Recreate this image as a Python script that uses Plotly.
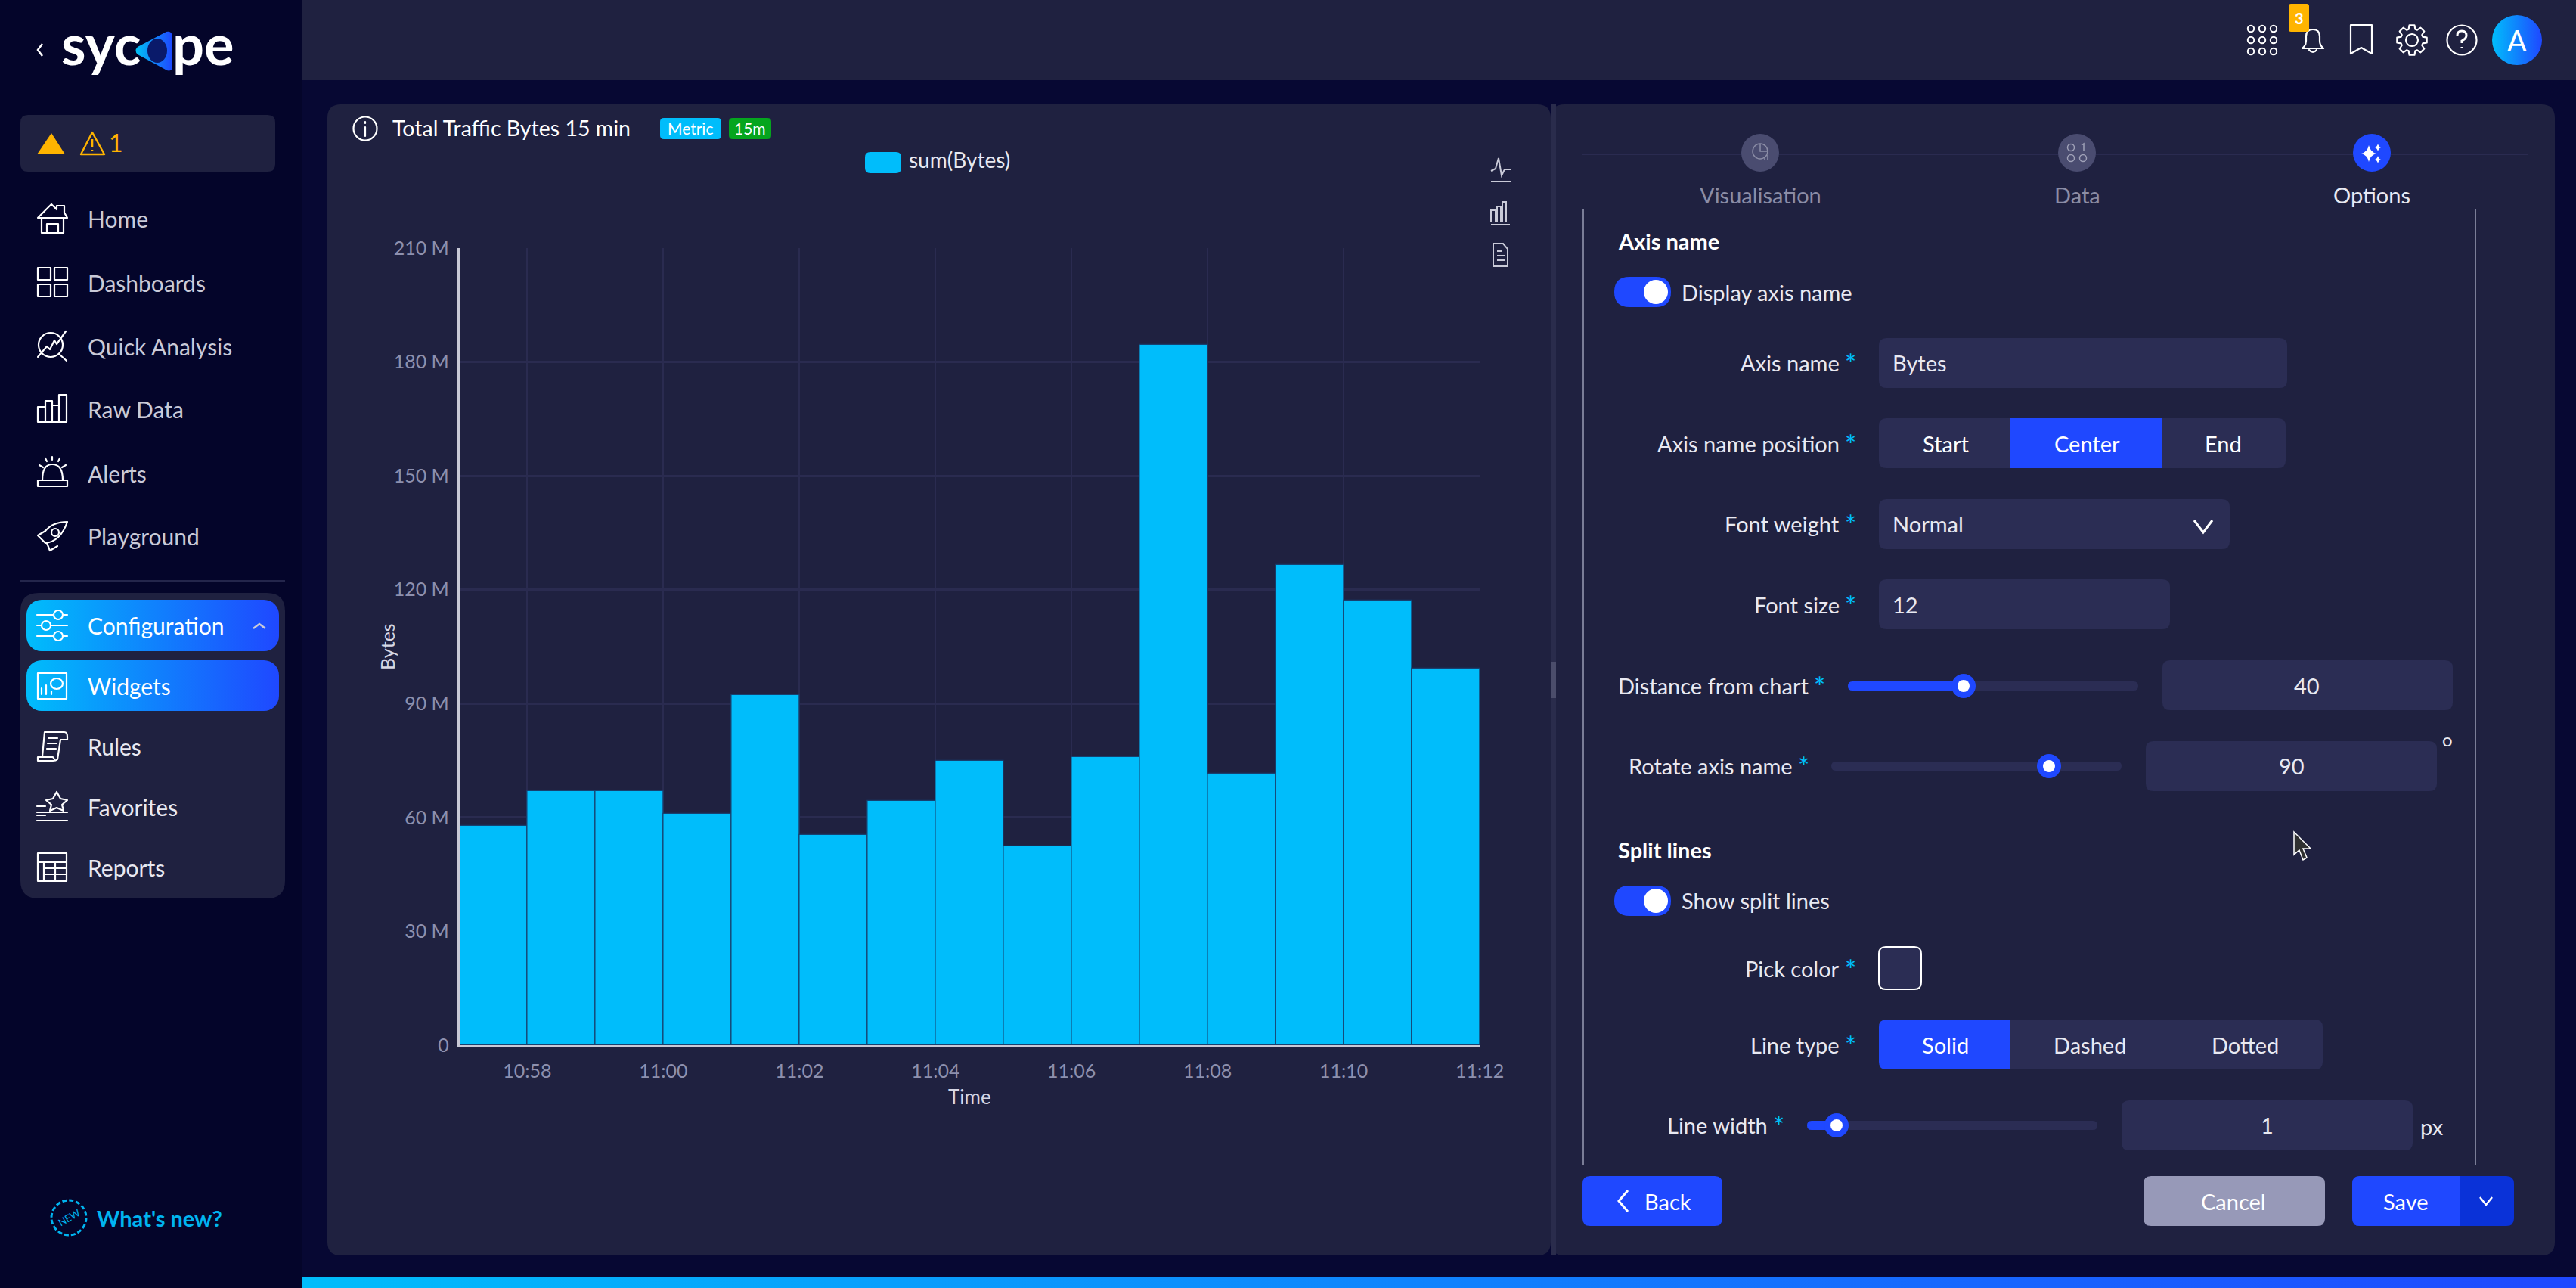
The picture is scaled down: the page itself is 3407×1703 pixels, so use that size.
import base64
import math
import plotly.graph_objects as go

W, H = 3407, 1703
FONT = "Lato"

# ── chart data ────────────────────────────────────────────────────────────────
bar_starts = [
    "2024-05-14 10:57", "2024-05-14 10:58", "2024-05-14 10:59", "2024-05-14 11:00",
    "2024-05-14 11:01", "2024-05-14 11:02", "2024-05-14 11:03", "2024-05-14 11:04",
    "2024-05-14 11:05", "2024-05-14 11:06", "2024-05-14 11:07", "2024-05-14 11:08",
    "2024-05-14 11:09", "2024-05-14 11:10", "2024-05-14 11:11",
]
sum_bytes = [57.7e6, 67.0e6, 67.0e6, 61.0e6, 92.3e6, 55.4e6, 64.4e6, 74.9e6,
             52.4e6, 75.9e6, 184.4e6, 71.6e6, 126.6e6, 117.1e6, 99.2e6]
y_ticks = [0, 30e6, 60e6, 90e6, 120e6, 150e6, 180e6, 210e6]
y_labels = ["0", "30 M", "60 M", "90 M", "120 M", "150 M", "180 M", "210 M"]
x_range = ["2024-05-14 10:57", "2024-05-14 11:12"]
x_first_tick = "2024-05-14 10:58"

# ── page text ─────────────────────────────────────────────────────────────────
menu_top = [("Home", 289), ("Dashboards", 374), ("Quick Analysis", 458),
            ("Raw Data", 541), ("Alerts", 626), ("Playground", 709)]
menu_sub = [("Rules", 987), ("Favorites", 1067), ("Reports", 1147)]
steps = [("Visualisation", 2328, "#8b8da6"), ("Data", 2747, "#8b8da6"), ("Options", 3137, "#e8e9f2")]
form_labels = [("Axis name", 2433, 479), ("Axis name position", 2433, 586), ("Font weight", 2433, 692),
               ("Font size", 2433, 799), ("Distance from chart", 2392, 906), ("Rotate axis name", 2371, 1012),
               ("Pick color", 2433, 1280), ("Line type", 2433, 1381), ("Line width", 2338, 1487)]

# colours
PAGE = "#04052a"
GAP = "#070833"
PANEL = "#1f2140"
INPUT = "#2b2d54"
BLUE = "#1f48ff"
CYAN = "#00bdfb"
ORANGE = "#ffb400"
GRID = "#2a2b50"
BODY = 30
FORM = 29


def px(x):
    return x / W


def py(y):
    return 1 - y / H


def rr(x0, y0, x1, y1, r, fill, line=None, lw=0):
    # rounded rectangle in page pixels
    p = (f"M{px(x0 + r)},{py(y0)} L{px(x1 - r)},{py(y0)} Q{px(x1)},{py(y0)} {px(x1)},{py(y0 + r)} "
         f"L{px(x1)},{py(y1 - r)} Q{px(x1)},{py(y1)} {px(x1 - r)},{py(y1)} "
         f"L{px(x0 + r)},{py(y1)} Q{px(x0)},{py(y1)} {px(x0)},{py(y1 - r)} "
         f"L{px(x0)},{py(y0 + r)} Q{px(x0)},{py(y0)} {px(x0 + r)},{py(y0)} Z")
    return dict(type="path", path=p, xref="paper", yref="paper", fillcolor=fill,
                line=dict(width=lw, color=line or fill), layer="below")


def rect(x0, y0, x1, y1, fill):
    return dict(type="rect", x0=px(x0), x1=px(x1), y0=py(y0), y1=py(y1), xref="paper", yref="paper",
                fillcolor=fill, line=dict(width=0), layer="below")


def circ(cx, cy, r, fill):
    return dict(type="circle", x0=px(cx - r), x1=px(cx + r), y0=py(cy - r), y1=py(cy + r), xref="paper",
                yref="paper", fillcolor=fill, line=dict(width=0), layer="below")


def hline(x0, x1, y, color, lw=2):
    return dict(type="line", x0=px(x0), x1=px(x1), y0=py(y), y1=py(y), xref="paper", yref="paper",
                line=dict(width=lw, color=color), layer="below")


def vline(x, y0, y1, color, lw=2):
    return dict(type="line", x0=px(x), x1=px(x), y0=py(y0), y1=py(y1), xref="paper", yref="paper",
                line=dict(width=lw, color=color), layer="below")


def txt(x, y, text, size=FORM, color="#e8e9f2", anchor="left", weight=400, angle=0):
    return dict(x=px(x), y=py(y), xref="paper", yref="paper", text=text, showarrow=False, xanchor=anchor,
                yanchor="middle", textangle=angle, borderpad=0, borderwidth=0,
                font=dict(family=FONT, size=size, color=color, weight=weight))


def gear_path(cx, cy, r_in, r_out, teeth=8):
    # outline of the settings cog in the top bar
    pts = []
    step = 2 * math.pi / teeth
    for i in range(teeth):
        a = i * step - math.pi / 2
        for da, r in ((-0.30, r_in), (-0.17, r_out), (0.17, r_out), (0.30, r_in)):
            pts.append(f"{cx + r * math.cos(a + da):.1f} {cy + r * math.sin(a + da):.1f}")
    return "M" + " L".join(pts) + " Z"


shapes = [
    # page areas
    rect(399, 106, W, 1689, GAP),
    rect(399, 0, W, 106, PANEL),
    rr(433, 138, 2051, 1660, 18, PANEL),
    rr(2051, 138, 3379, 1660, 18, PANEL),
    rect(2051, 138, 2058, 1660, "#2a2c4c"),
    rect(2051, 875, 2058, 923, "#4b4d6b"),
    # sidebar
    rr(27, 152, 364, 227, 10, PANEL),
    hline(27, 377, 768, "#24264c", 2),
    rr(27, 784, 377, 1188, 24, PANEL),
    # chart legend and badges
    rr(873, 156, 954, 184, 5, CYAN),
    rr(964, 156, 1020, 184, 5, "#05a51e"),
    rr(1144, 201, 1192, 229, 7, CYAN),
    # steps
    hline(2093, 3343, 204, "#2a2b50", 2),
    circ(2328, 202, 25, "#4a4c70"),
    circ(2747, 202, 25, "#4a4c70"),
    circ(3137, 202, 25, BLUE),
    vline(2094, 276, 1541, "#9a9cb4", 1.5),
    vline(3274, 276, 1541, "#9a9cb4", 1.5),
    # axis name form
    rr(2135, 366, 2210, 406, 20, BLUE),
    circ(2190, 386, 16, "#ffffff"),
    rr(2485, 447, 3025, 513, 10, INPUT),
    rr(2485, 553, 3023, 619, 10, INPUT),
    rect(2658, 553, 2859, 619, BLUE),
    rr(2485, 660, 2949, 726, 10, INPUT),
    rr(2485, 766, 2870, 832, 10, INPUT),
    rr(2444, 901, 2828, 913, 6, INPUT),
    rr(2444, 901, 2597, 913, 6, BLUE),
    circ(2597, 907, 16, BLUE),
    circ(2597, 907, 8, "#ffffff"),
    rr(2860, 873, 3244, 939, 10, INPUT),
    rr(2422, 1007, 2806, 1019, 6, INPUT),
    circ(2710, 1013, 16, BLUE),
    circ(2710, 1013, 8, "#ffffff"),
    rr(2838, 980, 3223, 1046, 10, INPUT),
    # split lines form
    rr(2135, 1171, 2210, 1211, 20, BLUE),
    circ(2190, 1191, 16, "#ffffff"),
    rr(2485, 1252, 2541, 1308, 9, INPUT, "#ffffff", 2),
    rr(2485, 1348, 3072, 1414, 10, INPUT),
    rr(2485, 1348, 2659, 1414, 10, BLUE),
    rect(2640, 1348, 2659, 1414, BLUE),
    rr(2390, 1482, 2774, 1494, 6, INPUT),
    rr(2390, 1482, 2429, 1494, 6, BLUE),
    circ(2429, 1488, 16, BLUE),
    circ(2429, 1488, 8, "#ffffff"),
    rr(2806, 1455, 3191, 1521, 10, INPUT),
    # buttons
    rr(2093, 1555, 2278, 1621, 10, BLUE),
    rr(2835, 1555, 3075, 1621, 10, "#9799b8"),
    rr(3111, 1555, 3325, 1621, 10, "#0a32d8"),
    rr(3111, 1555, 3253, 1621, 10, BLUE),
    rect(3235, 1555, 3253, 1621, BLUE),
]

annotations = [
    txt(81, 58, "syc", 74, "#ffffff", weight=700),
    txt(228, 58, "pe", 74, "#ffffff", weight=700),
    txt(153, 188, "1", 32, ORANGE, "center"),
    txt(116, 827, "Configuration", BODY, "#ffffff"),
    txt(116, 907, "Widgets", BODY, "#ffffff"),
    txt(128, 1610, "What's new?", 29, "#00b4f0", weight=700),
    txt(91, 1610, "NEW", 13, "#00b4f0", "center", angle=-30),
    txt(3041, 24, "3", 20, "#ffffff", "center", 700),
    txt(3329, 53, "A", 38, "#ffffff", "center"),
    txt(519, 169, "Total Traffic Bytes 15 min", 28.5, "#ffffff"),
    txt(913, 170, "Metric", 21, "#ffffff", "center"),
    txt(992, 170, "15m", 21, "#ffffff", "center"),
    txt(1202, 211, "sum(Bytes)", 28, "#e8e9f2"),
    txt(2140, 318, "Axis name", FORM, "#ffffff", weight=700),
    txt(2224, 386, "Display axis name"),
    txt(2503, 479, "Bytes"),
    txt(2573, 586, "Start", FORM, "#ffffff", "center"),
    txt(2760, 586, "Center", FORM, "#ffffff", "center"),
    txt(2940, 586, "End", FORM, "#ffffff", "center"),
    txt(2503, 692, "Normal"),
    txt(2503, 799, "12"),
    txt(3051, 906, "40", anchor="center"),
    txt(3031, 1012, "90", anchor="center"),
    txt(3237, 977, "o", 24, anchor="center"),
    txt(2140, 1123, "Split lines", FORM, "#ffffff", weight=700),
    txt(2224, 1190, "Show split lines"),
    txt(2573, 1381, "Solid", FORM, "#ffffff", "center"),
    txt(2764, 1381, "Dashed", anchor="center"),
    txt(2969, 1381, "Dotted", anchor="center"),
    txt(2998, 1487, "1", anchor="center"),
    txt(3201, 1489, "px"),
    txt(2175, 1588, "Back", FORM, "#ffffff"),
    txt(2954, 1588, "Cancel", FORM, "#ffffff", "center"),
    txt(3182, 1588, "Save", FORM, "#ffffff", "center"),
    # axis names
    txt(512, 855, "Bytes", 25, "#d6d7e4", "center", angle=-90),
    txt(1282, 1450, "Time", 26, "#d6d7e4", "center"),
]
for name, y in menu_top:
    annotations.append(txt(116, y, name, BODY, "#c9cad8"))
for name, y in menu_sub:
    annotations.append(txt(116, y, name, BODY, "#e8e9f2"))
for name, x, colr in steps:
    annotations.append(txt(x, 258, name, FORM, colr, "center"))
for name, x, y in form_labels:
    annotations.append(txt(x, y, name, FORM, anchor="right"))
    annotations.append(txt(x + 7, y + 2, "*", 36, CYAN))

# ── icons and gradient pieces, drawn as one transparent overlay ───────────────
WHITE_LINE = 'fill="none" stroke="#ffffff" stroke-width="2.2" stroke-linejoin="round" stroke-linecap="round"'
svg = [
    '<defs>'
    '<linearGradient id="g" x1="0" y1="0" x2="1" y2="0"><stop offset="0" stop-color="#00bdfb"/>'
    '<stop offset="1" stop-color="#1f48ff"/></linearGradient>'
    '<linearGradient id="d" x1="0" y1="0" x2="1" y2="0"><stop offset="0" stop-color="#00c0f5"/>'
    '<stop offset="1" stop-color="#1f48ff"/></linearGradient></defs>',
    # gradient pills and bottom strip
    '<rect x="35" y="793" width="334" height="68" rx="20" fill="url(#g)"/>',
    '<rect x="35" y="873" width="334" height="67" rx="20" fill="url(#g)"/>',
    '<rect x="399" y="1689" width="3008" height="14" fill="url(#g)"/>',
    '<circle cx="3329" cy="53" r="33" fill="url(#g)"/>',
    # logo
    '<path d="M56 58 L50 66 L56 74" fill="none" stroke="#fff" stroke-width="2.5"/>',
    '<path d="M220 42 Q228 40 228 50 L228 86 Q228 97 219 92 L182 72 Q177 67 182 62 Z" fill="url(#d)"/>',
    '<ellipse cx="208" cy="67" rx="13" ry="16" fill="#0a1a6a"/>',
    # alert box
    '<path d="M68 176 L86 204 L49 204 Z" fill="#ffb400"/>',
    '<path d="M122 175 L138 204 L107 204 Z" fill="none" stroke="#ffb400" stroke-width="2.4" stroke-linejoin="round"/>',
    '<path d="M122 184 V195 M122 198 V200" stroke="#ffb400" stroke-width="2.6"/>',
    # home
    f'<path d="M50 288 L68 270 L75 277 V272 H85 V281 L89 288 Z M55 288 V308 H84 V288 M62 308 V296 H77 V308" {WHITE_LINE}/>',
    # dashboards
    f'<path d="M50 354 H67 V370 H50 Z M72 354 H89 V370 H72 Z M50 376 H67 V392 H50 Z M72 376 H89 V392 H72 Z" {WHITE_LINE}/>',
    # quick analysis
    f'<circle cx="67" cy="456" r="16" {WHITE_LINE}/><path d="M50 472 L62 458 L66 462 L72 450 L75 455 L87 438 M78 468 L88 477" {WHITE_LINE}/>',
    # raw data
    f'<path d="M50 558 V538 H60 V558 M60 558 V530 H69 V558 M78 558 V522 H88 V558 M69 558 V536 H78 M50 558 H88" {WHITE_LINE}/>',
    # alerts
    f'<path d="M50 643 V635 H89 V643 Z M56 635 Q56 614 69 614 Q83 614 83 635 M69 604 V608 M52 615 L57 618 M87 615 L82 618 M60 606 L62 610 M79 606 L77 610" {WHITE_LINE}/>',
    # playground
    f'<path d="M89 690 Q70 690 60 702 L50 708 L60 718 Q80 716 89 690 Z M62 718 L66 728 L76 722 M60 702 L50 708" {WHITE_LINE}/><circle cx="73" cy="704" r="5" {WHITE_LINE}/>',
    # configuration
    f'<path d="M49 813 H70 M84 813 H89 M49 827 H54 M68 827 H89 M49 841 H70 M84 841 H89" {WHITE_LINE}/>'
    f'<circle cx="77" cy="813" r="6" {WHITE_LINE}/><circle cx="61" cy="827" r="6" {WHITE_LINE}/><circle cx="77" cy="841" r="6" {WHITE_LINE}/>',
    '<path d="M335 831 L343 825 L351 831" fill="none" stroke="#c9cad8" stroke-width="2.5"/>',
    # widgets
    f'<path d="M50 890 H88 V924 H50 Z M55 918 V910 M61 918 V906 M68 918 V914" {WHITE_LINE}/><ellipse cx="75" cy="904" rx="8" ry="7" {WHITE_LINE}/>',
    # rules
    f'<path d="M56 1000 L59 968 H85 Q89 968 89 974 V978 H80 L76 1004 Q74 1006 70 1006 H50 V1001 H70 L72 1004 M64 976 H76 M63 983 H75 M62 990 H74" {WHITE_LINE}/>',
    # favorites
    f'<path d="M75 1047 L80 1056 L89 1058 L82 1064 L84 1072 L75 1068 L66 1072 L68 1064 L61 1058 L70 1056 Z M49 1066 H60 M49 1074 H89 M49 1085 H89 M49 1078 H60" {WHITE_LINE}/>',
    # reports
    f'<path d="M50 1128 H88 V1165 H50 Z M50 1140 H88 M58 1140 V1165 M73 1140 V1165 M58 1148 H88 M58 1156 H88" {WHITE_LINE}/>',
    # what's new badge
    '<circle cx="91" cy="1610" r="23" fill="none" stroke="#00b4f0" stroke-width="3" stroke-dasharray="6 3"/>',
    # top bar
]
for gx in (2977, 2992, 3007):
    for gy in (38, 53, 68):
        svg.append(f'<circle cx="{gx}" cy="{gy}" r="4.2" fill="none" stroke="#fff" stroke-width="2"/>')
svg += [
    f'<path d="M3045 64 Q3050 60 3050 54 V48 Q3050 39 3059 39 Q3068 39 3068 48 V54 Q3068 60 3073 64 Z M3054 66 Q3059 72 3064 66" {WHITE_LINE}/>',
    '<rect x="3027" y="5" width="27" height="37" rx="3" fill="#ffb400"/>',
    f'<path d="M3109 33 H3137 V71 L3123 63 L3109 71 Z" {WHITE_LINE}/>',
    f'<circle cx="3190" cy="53" r="8" {WHITE_LINE}/><path d="{gear_path(3190, 53, 15, 20)}" {WHITE_LINE}/>',
    f'<circle cx="3256" cy="53" r="19.5" {WHITE_LINE}/>',
    '<path d="M3250 47 Q3250 41 3256 41 Q3262 41 3262 47 Q3262 51 3256 54 V57 M3256 62 V64" fill="none" stroke="#fff" stroke-width="3"/>',
    # chart panel
    f'<circle cx="483" cy="170" r="15.5" {WHITE_LINE}/><path d="M483 168 V180 M483 161 V163" {WHITE_LINE}/>',
    '<path d="M1972 226 L1978 223 L1982 209 L1986 232 L1990 224 H1998 M1972 240 H1998" fill="none" stroke="#c9cad8" stroke-width="2"/>',
    '<path d="M1972 294 V278 H1978 V294 M1980 294 V273 H1985 V294 M1987 294 V267 H1992 V294 M1972 297 H1997" fill="none" stroke="#c9cad8" stroke-width="2"/>',
    '<path d="M1975 322 H1988 L1994 329 V352 H1975 Z M1980 332 H1986 M1980 338 H1990 M1980 344 H1990" fill="none" stroke="#c9cad8" stroke-width="2"/>',
    # step icons
    '<circle cx="2328" cy="200" r="10" fill="none" stroke="#8b8da6" stroke-width="1.5"/>'
    '<path d="M2328 190 V200 H2338 M2334 212 V208 M2338 212 V205" fill="none" stroke="#8b8da6" stroke-width="1.5"/>',
    '<circle cx="2739" cy="195" r="4.5" fill="none" stroke="#a0a2b8" stroke-width="1.5"/>'
    '<circle cx="2739" cy="209" r="4.5" fill="none" stroke="#a0a2b8" stroke-width="1.5"/>'
    '<circle cx="2755" cy="209" r="4.5" fill="none" stroke="#a0a2b8" stroke-width="1.5"/>'
    '<path d="M2753 192 L2756 190 V200" fill="none" stroke="#a0a2b8" stroke-width="1.5"/>',
    '<path d="M3133 192 Q3135 201 3143 203 Q3135 205 3133 214 Q3131 205 3123 203 Q3131 201 3133 192 Z'
    ' M3145 190 Q3146 194 3149 195 Q3146 196 3145 200 Q3144 196 3141 195 Q3144 194 3145 190 Z'
    ' M3145 206 Q3146 210 3149 211 Q3146 212 3145 216 Q3144 212 3141 211 Q3144 210 3145 206 Z" fill="#fff"/>',
    # chevrons
    '<path d="M2902 688 L2914 704 L2926 688" fill="none" stroke="#fff" stroke-width="3"/>',
    '<path d="M2153 1574 L2141 1588 L2153 1602" fill="none" stroke="#fff" stroke-width="3"/>',
    '<path d="M3280 1583 L3288 1593 L3296 1583" fill="none" stroke="#fff" stroke-width="2.5"/>',
    # mouse cursor
    '<path d="M3034 1100 V1130 L3041 1124 L3046 1137 L3051 1134 L3046 1122 L3056 1122 Z" fill="#2f3030" stroke="#ffffff" stroke-width="1.5"/>',
]
svg_doc = (f'<svg xmlns="http://www.w3.org/2000/svg" width="{W}" height="{H}" viewBox="0 0 {W} {H}">'
           + "".join(svg) + "</svg>")
overlay = "data:image/svg+xml;base64," + base64.b64encode(svg_doc.encode()).decode()

# ── figure ────────────────────────────────────────────────────────────────────
fig = go.Figure(go.Bar(
    x=bar_starts,
    y=sum_bytes,
    width=60000,
    offset=0,
    name="sum(Bytes)",
    marker=dict(color=CYAN, line=dict(color="#17406f", width=1.2)),
))
fig.update_layout(
    width=W,
    height=H,
    margin=dict(l=0, r=0, t=0, b=0),
    paper_bgcolor=PAGE,
    plot_bgcolor="rgba(0,0,0,0)",
    showlegend=False,
    bargap=0,
    font=dict(family=FONT),
    shapes=shapes,
    annotations=annotations,
    images=[dict(source=overlay, xref="paper", yref="paper", x=0, y=1, sizex=1, sizey=1,
                 xanchor="left", yanchor="top", sizing="stretch", layer="above")],
    xaxis=dict(
        domain=[607.5 / W, 1957 / W],
        automargin=False,
        type="date",
        range=x_range,
        tick0=x_first_tick,
        dtick=120000,
        tickformat="%H:%M",
        showgrid=True,
        gridcolor=GRID,
        gridwidth=2,
        showline=True,
        linecolor="#c8c9d6",
        linewidth=2.5,
        ticks="",
        ticklabelstandoff=10,
        tickfont=dict(family=FONT, size=25, color="#8d90ae"),
        zeroline=False,
    ),
    yaxis=dict(
        domain=[1 - 1382 / H, 1 - 328 / H],
        automargin=False,
        range=[0, 210e6],
        tickvals=y_ticks,
        ticktext=y_labels,
        showgrid=True,
        gridcolor=GRID,
        gridwidth=3,
        showline=True,
        linecolor="#c8c9d6",
        linewidth=2.5,
        ticks="",
        ticklabelstandoff=6,
        tickfont=dict(family=FONT, size=25, color="#8d90ae"),
        zeroline=False,
    ),
)
fig.write_html("out.html", config={"displayModeBar": False},
               post_script="document.body.style.margin='0';")
